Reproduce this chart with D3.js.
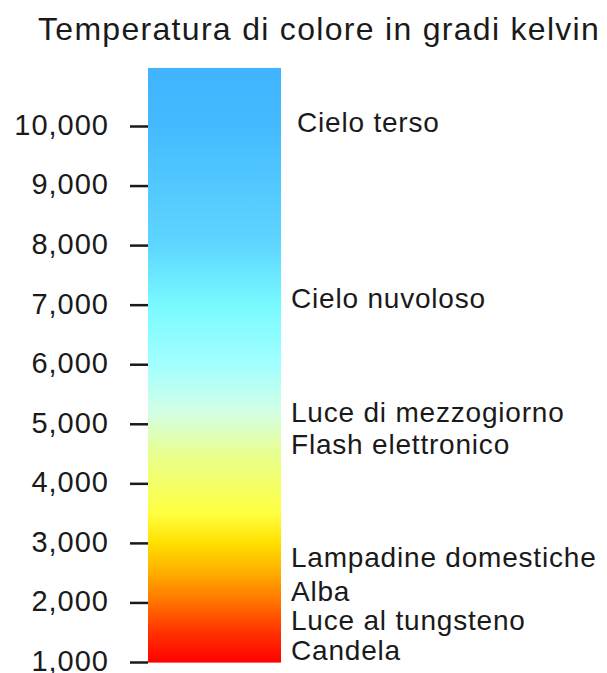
<!DOCTYPE html>
<html>
<head>
<meta charset="utf-8">
<script src="https://cdn.jsdelivr.net/npm/d3@7"></script>
<style>
  html, body { margin: 0; padding: 0; background: #fff; }
  svg { display: block; }
  text { font-family: "Liberation Sans", Arial, Helvetica, sans-serif; fill: #1a1a1a; }
</style>
</head>
<body>
<svg id="chart" width="607" height="673"></svg>
<script>
// ---- data ----
const title = "Temperatura di colore in gradi kelvin";
const tickValues = [1000, 2000, 3000, 4000, 5000, 6000, 7000, 8000, 9000, 10000];
const barExtent = [990, 10975];
const gradientKelvin = [990, 1500, 2000, 2500, 3000, 3500, 4500, 5200, 6000, 7000, 8000, 10000, 10975];
const gradientColors = ["#ff0000", "#ff3200", "#ff7200", "#ffae00", "#ffe000", "#ffff40", "#e8ff90", "#d2ffe6", "#a2ffff", "#78faff", "#5ed6ff", "#45baff", "#40b4ff"];
const labelNames = ["Cielo terso", "Cielo nuvoloso", "Luce di mezzogiorno", "Flash elettronico", "Lampadine domestiche", "Alba", "Luce al tungsteno", "Candela"];
const labelKelvin = [10064, 7108, 5194, 4657, 2760, 2189, 1702, 1198];
const labelX = [297, 291, 291, 291, 291, 291, 291, 291];

// ---- drawing ----
const svg = d3.select("#chart");
const y = d3.scaleLinear().domain([1000, 10000]).range([662, 126]);
const barX = 148, barW = 133;

svg.append("text")
  .attr("x", 38).attr("y", 40)
  .style("font-size", "32px")
  .style("letter-spacing", "1.3px")
  .text(title);

const defs = svg.append("defs");
const grad = defs.append("linearGradient")
  .attr("id", "kgrad")
  .attr("gradientUnits", "userSpaceOnUse")
  .attr("x1", 0).attr("x2", 0)
  .attr("y1", y(barExtent[0])).attr("y2", y(barExtent[1]));
const off = d3.scaleLinear().domain(barExtent).range([0, 1]);
grad.selectAll("stop").data(gradientKelvin).join("stop")
  .attr("offset", d => off(d))
  .attr("stop-color", (d, i) => gradientColors[i]);

svg.append("rect")
  .attr("x", barX).attr("width", barW)
  .attr("y", y(barExtent[1]))
  .attr("height", y(barExtent[0]) - y(barExtent[1]))
  .attr("fill", "url(#kgrad)");

const axis = d3.axisLeft(y)
  .tickValues(tickValues)
  .tickFormat(d3.format(","))
  .tickSize(18)
  .tickPadding(22);

const g = svg.append("g").attr("transform", `translate(${barX},0)`).call(axis);
g.select(".domain").remove();
g.selectAll(".tick line").attr("stroke", "#1a1a1a").attr("stroke-width", 2.5);
g.selectAll(".tick text")
  .attr("fill", "#1a1a1a")
  .style("font-size", "29px")
  .style("letter-spacing", "1px")
  .style("font-family", "'Liberation Sans', Arial, sans-serif")
  .attr("dx", "1px")
  .attr("dy", "0.29em");

svg.append("g").selectAll("text").data(labelNames).join("text")
  .attr("x", (d, i) => labelX[i])
  .attr("y", (d, i) => y(labelKelvin[i]))
  .attr("dy", "0.35em")
  .style("font-size", "28px")
  .style("letter-spacing", "0.8px")
  .text(d => d);
</script>
</body>
</html>
